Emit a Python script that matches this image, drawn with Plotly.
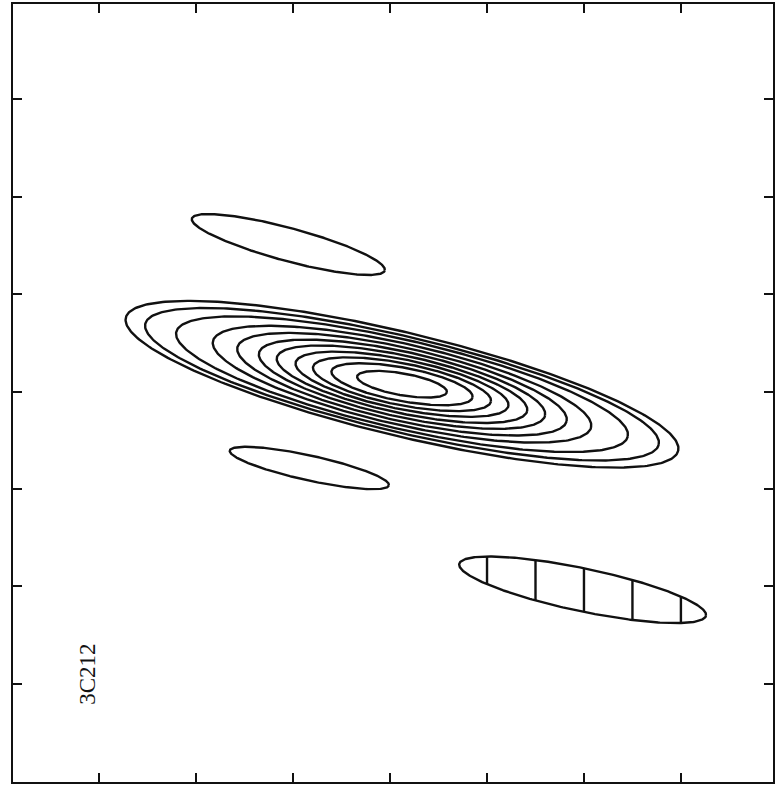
import numpy as np
import plotly.graph_objects as go

# Main source: nested contour levels, each described by its ellipse
# (semi-major, semi-minor in axis units, position angle in degrees)
core_center = (0.123, 0.075)
core_major = [2.93, 2.72, 2.39, 2.00, 1.74, 1.51, 1.32, 1.12, 0.935, 0.74, 0.47]
core_minor = [0.53, 0.49, 0.455, 0.415, 0.375, 0.335, 0.295, 0.255, 0.215, 0.172, 0.112]
core_angle = [-13.5, -13.2, -13.0, -12.8, -12.6, -12.3, -12.0, -11.5, -11.0, -10.5, -10.0]

# Isolated single-level components: (x, y, major, minor, angle)
blob_x = [-1.05, -0.833]
blob_y = [1.51, -0.785]
blob_major = [1.03, 0.84]
blob_minor = [0.17, 0.128]
blob_angle = [-15.0, -12.3]

# Restoring beam with hatch lines
beam = dict(x=1.986, y=-2.036, major=1.30, minor=0.22, angle=-11.8)
hatch_x = [1.0, 1.5, 2.0, 2.5, 3.0]

tick_vals = [-3, -2, -1, 0, 1, 2, 3]
source_name = "3C212"

LINE = dict(color="#111111", width=2.4)


def ellipse(cx, cy, a, b, ang_deg, n=360):
    t = np.linspace(0, 2 * np.pi, n)
    th = np.deg2rad(ang_deg)
    x = cx + a * np.cos(t) * np.cos(th) - b * np.sin(t) * np.sin(th)
    y = cy + a * np.cos(t) * np.sin(th) + b * np.sin(t) * np.cos(th)
    return x, y


def vertical_chord(cx, cy, a, b, ang_deg, xv):
    # intersect the line x = xv with the rotated ellipse
    th = np.deg2rad(ang_deg)
    c, s = np.cos(th), np.sin(th)
    dx = xv - cx
    # ((dx c + dy s)/a)^2 + ((-dx s + dy c)/b)^2 = 1  -> quadratic in dy
    A = s * s / a ** 2 + c * c / b ** 2
    B = 2 * dx * c * s / a ** 2 - 2 * dx * s * c / b ** 2
    C = dx * dx * c * c / a ** 2 + dx * dx * s * s / b ** 2 - 1
    disc = B * B - 4 * A * C
    if disc <= 0:
        return None
    r = np.sqrt(disc)
    return cy + (-B - r) / (2 * A), cy + (-B + r) / (2 * A)


fig = go.Figure()

for a, b, ang in zip(core_major, core_minor, core_angle):
    x, y = ellipse(core_center[0], core_center[1], a, b, ang)
    fig.add_trace(go.Scatter(x=x, y=y, mode="lines", line=LINE, hoverinfo="skip"))

for cx, cy, a, b, ang in zip(blob_x, blob_y, blob_major, blob_minor, blob_angle):
    x, y = ellipse(cx, cy, a, b, ang)
    fig.add_trace(go.Scatter(x=x, y=y, mode="lines", line=LINE, hoverinfo="skip"))

bx, by = ellipse(beam["x"], beam["y"], beam["major"], beam["minor"], beam["angle"])
fig.add_trace(go.Scatter(x=bx, y=by, mode="lines", line=LINE, hoverinfo="skip"))

hx, hy = [], []
for xv in hatch_x:
    chord = vertical_chord(beam["x"], beam["y"], beam["major"], beam["minor"], beam["angle"], xv)
    if chord:
        hx += [xv, xv, None]
        hy += [chord[0], chord[1], None]
fig.add_trace(go.Scatter(x=hx, y=hy, mode="lines", line=LINE, hoverinfo="skip"))

fig.add_annotation(
    x=-3.117, y=-2.90, xref="x", yref="y",
    text=source_name, textangle=-90, showarrow=False,
    font=dict(family="Liberation Serif", size=23, color="#111111"),
)

axis_common = dict(
    showgrid=False, zeroline=False, showticklabels=False,
    showline=True, linecolor="#111111", linewidth=2.4, mirror="ticks",
    ticks="inside", ticklen=9, tickwidth=2, tickcolor="#111111",
    tickvals=tick_vals,
)

fig.update_layout(
    width=777, height=787,
    margin=dict(l=13, r=2, t=3, b=5),
    paper_bgcolor="white", plot_bgcolor="white",
    showlegend=False,
    xaxis=dict(range=[-3.89, 3.95], **axis_common),
    yaxis=dict(range=[-4.01, 3.98], **axis_common),
)

fig.write_html("out.html")
